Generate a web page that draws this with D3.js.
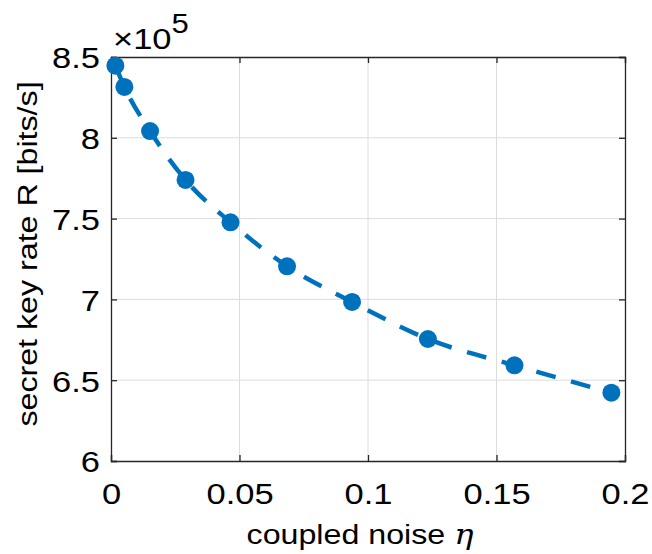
<!DOCTYPE html>
<html>
<head>
<meta charset="utf-8">
<script src="https://cdn.jsdelivr.net/npm/d3@7"></script>
<style>
  body { margin: 0; background: #fff; }
  text { font-family: "Liberation Sans", Arial, sans-serif; fill: #000; }
</style>
</head>
<body>
<div id="main"></div>
<script>
// data
const eta = [0.0017, 0.0052, 0.0152, 0.0290, 0.0465, 0.0685, 0.0938, 0.1233, 0.1570, 0.1947];
const rate = [8.446, 8.315, 8.042, 7.739, 7.477, 7.205, 6.984, 6.755, 6.592, 6.423];
const xTicks = [0, 0.05, 0.1, 0.15, 0.2];
const yTicks = [6, 6.5, 7, 7.5, 8, 8.5];

const w = 652, h = 554;
const m = { left: 111, top: 57, right: 27, bottom: 93 };
const iw = w - m.left - m.right, ih = h - m.top - m.bottom;
const sx = 1.15; // text in the picture is a bit wider than Arial

const svg = d3.select('#main').append('svg').attr('width', w).attr('height', h);
const g = svg.append('g').attr('transform', `translate(${m.left},${m.top})`);

const x = d3.scaleLinear().domain([0, 0.2]).range([0, iw]);
const y = d3.scaleLinear().domain([6, 8.5]).range([ih, 0]);

// grid
g.append('g').selectAll('line').data(xTicks.slice(1, -1)).enter().append('line')
    .attr('x1', d => x(d)).attr('x2', d => x(d)).attr('y1', 0).attr('y2', ih)
    .attr('stroke', '#dcdcdc').attr('stroke-width', 1);
g.append('g').selectAll('line').data(yTicks.slice(1, -1)).enter().append('line')
    .attr('y1', d => y(d)).attr('y2', d => y(d)).attr('x1', 0).attr('x2', iw)
    .attr('stroke', '#dcdcdc').attr('stroke-width', 1);

// axes, ticks inward on all four sides
const fmt = d => String(d);
const ax = (axis, tr) => {
    const a = g.append('g').attr('transform', tr).call(axis);
    a.select('.domain').attr('stroke', '#262626').attr('stroke-width', 1.3);
    a.selectAll('.tick line').attr('stroke', '#262626').attr('stroke-width', 1.3);
    return a;
};
const xa = ax(d3.axisBottom(x).tickValues(xTicks).tickSize(-6).tickFormat(fmt), `translate(0,${ih})`);
xa.selectAll('text').attr('y', 43).attr('dy', null).style('font-size', '30px')
    .attr('transform', `scale(${sx},1)`);

const ya = ax(d3.axisLeft(y).tickValues(yTicks).tickSize(-6).tickFormat(fmt), 'translate(0,0)');
ya.selectAll('text').attr('x', -11 / sx).attr('dy', '0.36em').style('font-size', '30px')
    .attr('transform', `scale(${sx},1)`);

ax(d3.axisTop(x).tickValues(xTicks).tickSize(-6).tickFormat(''), 'translate(0,0)');
ax(d3.axisRight(y).tickValues(yTicks).tickSize(-6).tickFormat(''), `translate(${iw},0)`);

// data line + markers
const pts = eta.map((d, i) => [d, rate[i]]);
g.append('path').datum(pts)
    .attr('fill', 'none').attr('stroke', '#0072BD').attr('stroke-width', 4.5)
    .attr('stroke-dasharray', '20,16')
    .attr('d', d3.line().x(d => x(d[0])).y(d => y(d[1])).curve(d3.curveMonotoneX));

g.append('g').selectAll('circle').data(pts).enter().append('circle')
    .attr('cx', d => x(d[0])).attr('cy', d => y(d[1])).attr('r', 9)
    .attr('fill', '#0072BD');

// exponent label
const ex = svg.append('text').attr('transform', `translate(113,49) scale(${sx},1)`).style('font-size', '30px');
ex.append('tspan').text('×10');
ex.append('tspan').attr('dy', -16).style('font-size', '27px').text('5');

// axis labels
svg.append('text').attr('transform', `translate(360,544) scale(${sx},1)`).attr('text-anchor', 'middle')
    .style('font-size', '28px')
    .html('coupled noise <tspan style="font-family: \'DejaVu Serif\', \'Liberation Serif\', serif; font-style: italic;">η</tspan>');

svg.append('text').attr('transform', `translate(37,254) rotate(-90) scale(${sx},1)`)
    .attr('text-anchor', 'middle').style('font-size', '28px')
    .text('secret key rate R [bits/s]');
</script>
</body>
</html>
